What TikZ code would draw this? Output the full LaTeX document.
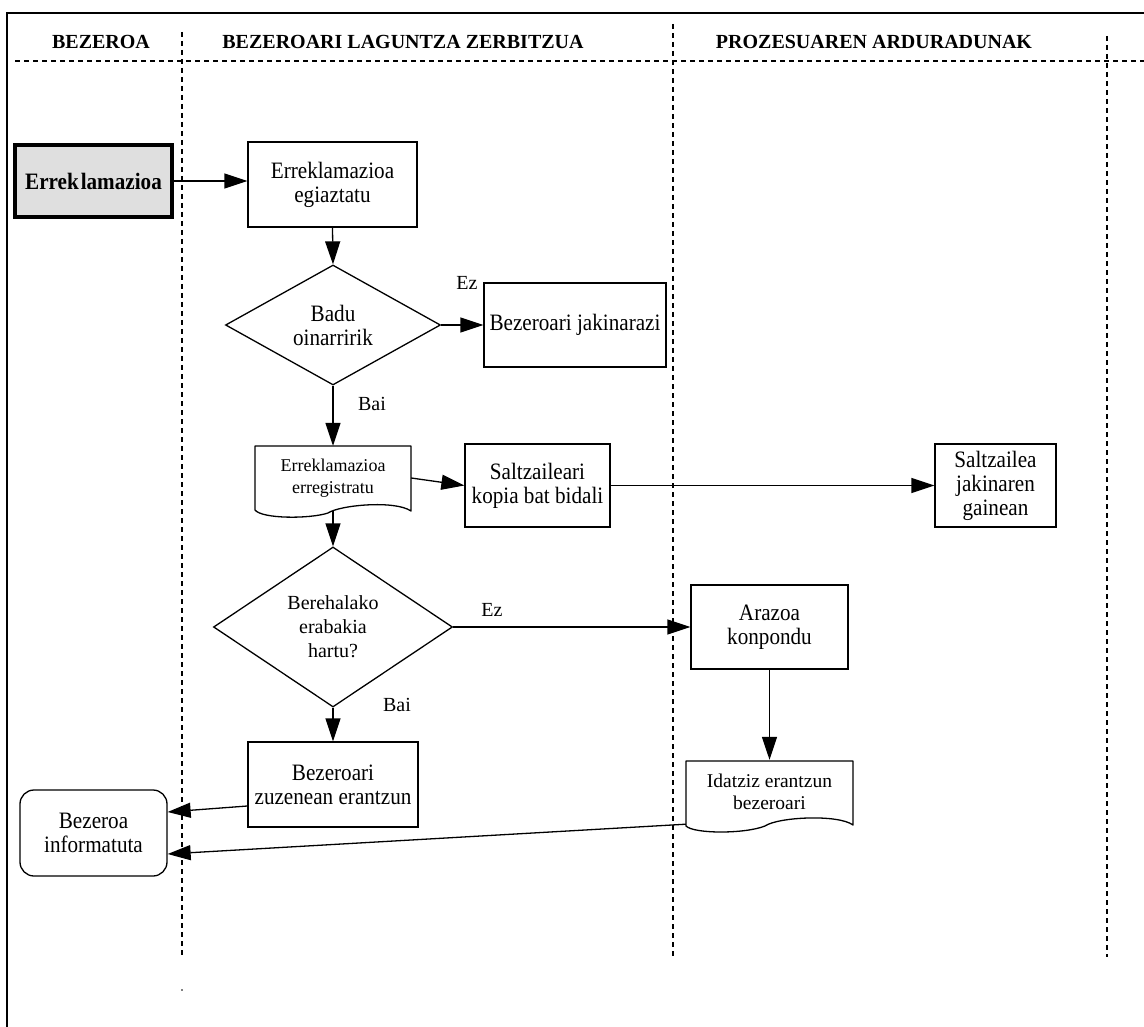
\documentclass[tikz,border=0pt]{standalone}
\usepackage{fontspec}
\setmainfont{Liberation Serif}
\newfontfamily\condfont[FakeStretch=0.9]{Liberation Serif}
\usetikzlibrary{arrows.meta,shapes.geometric,calc}
\begin{document}
\begin{tikzpicture}[x=1pt,y=-1pt,
  every node/.style={font=\fontsize{20}{22}\selectfont, align=center, inner sep=0pt},
  bodytext/.style={font=\condfont\fontsize{23.5}{24}\selectfont},
  box/.style={draw, line width=1.3pt, rectangle, bodytext},
  decision/.style={draw, line width=1.3pt, diamond},
  arr/.style={-{Triangle[length=23pt,width=15pt]}, line width=1.3pt},
  lane/.style={dash pattern=on 5pt off 4pt, line width=1.1pt},
  hdr/.style={font=\bfseries\fontsize{20}{22}\selectfont},
  outline/.style={line width=1.3pt, line join=round}
]
\useasboundingbox (0,0) rectangle (1144,1027);
% frame
\draw[line width=2pt] (7,1027) -- (7,13) -- (1144,13);
% lanes
\draw[lane] (15,61) -- (1144,61);
\draw[lane] (182,32) -- (182,957);
\draw[lane] (673,24) -- (673,957);
\draw[lane] (1107,36) -- (1107,957);
\fill (182,990) circle (0.8pt);
% headers
\node[hdr] (h1) at (101,42) {BEZEROA};
\node[hdr] (h2) at (403,42) {BEZEROARI LAGUNTZA ZERBITZUA};
\node[hdr] (h3) at (874,42) {PROZESUAREN ARDURADUNAK};
% nodes
\node[box, line width=4pt, fill=gray!25, minimum width=157pt, minimum height=72pt, font=\condfont\bfseries\fontsize{23.5}{24}\selectfont] (erk) at (93.5,181) {Errek\kern2pt lamazioa};
\node[box, minimum width=169pt, minimum height=85pt] (egz) at (332.5,184.5) {Erreklamazioa\\egiaztatu};
\node[decision, bodytext, aspect=1.79, minimum width=215pt, minimum height=120pt] (d1) at (333,325) {Badu\\oinarririk};
\node[box, minimum width=182pt, minimum height=84pt] (jak) at (575,325) {Bezeroari jakinarazi};
\node[minimum width=156pt, minimum height=64pt, font=\fontsize{18}{22}\selectfont] (doc1) at (333,478) {Erreklamazioa\\erregistratu};
\draw[outline] (255,510) -- (255,446) -- (411,446) -- (411,511)
  .. controls (395,500) and (340,505) .. (328,513)
  .. controls (310,519) and (262,519) .. (255,510) -- cycle;
\node[box, minimum width=145pt, minimum height=83pt] (salt) at (537.5,485.5) {Saltzaileari\\kopia bat bidali};
\node[box, minimum width=121pt, minimum height=83pt] (saltz) at (995.5,485.5) {Saltzailea\\jakinaren\\gainean};
\node[decision, font=\fontsize{20}{24}\selectfont, aspect=1.49, minimum width=239pt, minimum height=160pt] (d2) at (333,627) {Berehalako\\erabakia\\hartu?};
\node[box, minimum width=157pt, minimum height=84pt] (araz) at (769.5,627) {Arazoa\\konpondu};
\node[box, minimum width=170pt, minimum height=85pt] (zuz) at (333,784.5) {Bezeroari\\zuzenean erantzun};
\node[minimum width=167pt, minimum height=64pt, font=\fontsize{19.5}{22}\selectfont] (doc2) at (769.5,792) {Idatziz erantzun\\bezeroari};
\draw[outline] (686,826) -- (686,761) -- (853,761) -- (853,825)
  .. controls (838,814) and (778,817) .. (765,826)
  .. controls (745,834) and (694,834) .. (686,826) -- cycle;
\node[draw, line width=1.3pt, rounded corners=14pt, bodytext, minimum width=147pt, minimum height=86pt] (inf) at (93.5,833) {Bezeroa\\informatuta};
% labels
\node (ez1) at (467,283) {Ez};
\node (bai1) at (372,404) {Bai};
\node (ez2) at (492,610) {Ez};
\node (bai2) at (397,705) {Bai};
% connectors
\coordinate (doc1b) at (333,511);
\draw[arr] (erk.east) -- (erk.east -| egz.west);
\draw[arr] (egz.south) -- (d1.north);
\draw[arr] (d1.east) -- (jak.west);
\draw[arr] (d1.south) -- (doc1.north);
\draw[arr] (doc1.east) -- (salt.west);
\draw[arr] (salt.east) -- (saltz.west);
\draw[arr] (doc1b) -- (d2.north);
\draw[arr] (d2.east) -- (araz.west);
\draw[arr] (d2.south) -- (zuz.north);
\draw[arr] (araz.south) -- (doc2.north);
\draw[arr] ([yshift=-21.5pt]zuz.west) -- ([yshift=21pt]inf.east);
\draw[arr] (doc2.south west) -- ([yshift=-21pt]inf.east);
\end{tikzpicture}
\end{document}
